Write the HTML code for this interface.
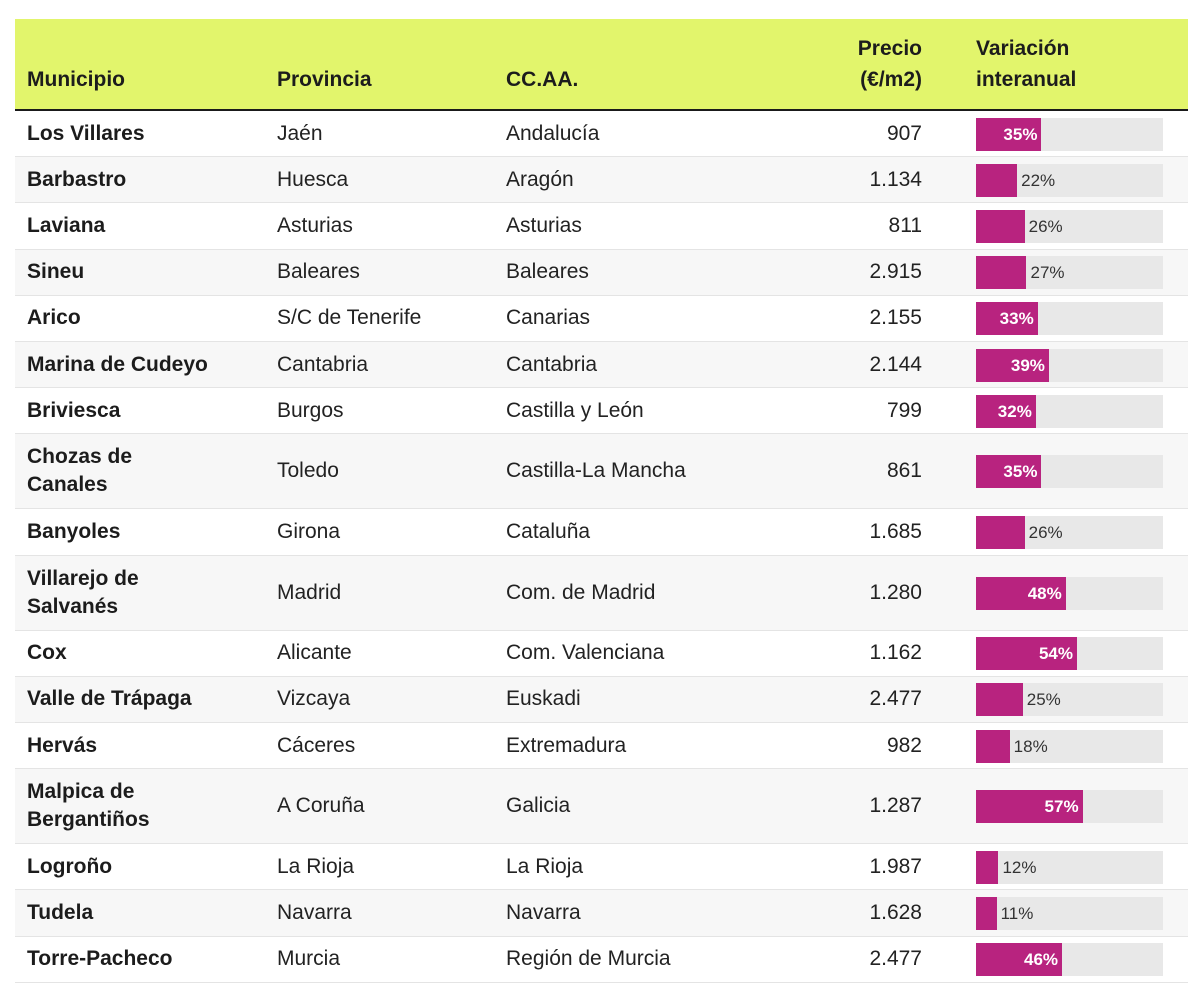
<!DOCTYPE html>
<html><head><meta charset="utf-8">
<style>
body{margin:0;background:#fff;width:1200px;height:1001px;position:relative;overflow:hidden;font-family:"Liberation Sans",sans-serif;color:#222;}
#hdr{position:absolute;left:15px;top:19px;width:1173px;height:90px;background:#e2f56c;border-bottom:2px solid #1a1a1a;}
.h{position:absolute;font-weight:bold;font-size:21px;line-height:31px;color:#1c1c1c;}
.row{position:absolute;left:15px;width:1173px;border-bottom:1px solid #e4e4e4;box-sizing:border-box;}
.c{position:absolute;top:0;bottom:0;display:flex;align-items:center;font-size:21px;line-height:28px;}
.track{position:absolute;left:961px;width:187px;height:33px;background:#e8e8e8;}
.bar{position:absolute;left:0;top:0;height:33px;background:#b8237f;}
.lbl{position:absolute;top:0;line-height:33px;font-size:17px;}
</style></head><body>
<div id="hdr">
<div class="h" style="left:12px;top:45px">Municipio</div>
<div class="h" style="left:262px;top:45px">Provincia</div>
<div class="h" style="left:491px;top:45px">CC.AA.</div>
<div class="h" style="right:266px;top:14px;text-align:right">Precio<br>(€/m2)</div>
<div class="h" style="left:961px;top:14px">Variación<br>interanual</div>
</div>
<div id="body"></div>
<script>
const municipios=["Los Villares","Barbastro","Laviana","Sineu","Arico","Marina de Cudeyo","Briviesca","Chozas de<br>Canales","Banyoles","Villarejo de<br>Salvanés","Cox","Valle de Trápaga","Hervás","Malpica de<br>Bergantiños","Logroño","Tudela","Torre-Pacheco"];
const provincias=["Jaén","Huesca","Asturias","Baleares","S/C de Tenerife","Cantabria","Burgos","Toledo","Girona","Madrid","Alicante","Vizcaya","Cáceres","A Coruña","La Rioja","Navarra","Murcia"];
const ccaa=["Andalucía","Aragón","Asturias","Baleares","Canarias","Cantabria","Castilla y León","Castilla-La Mancha","Cataluña","Com. de Madrid","Com. Valenciana","Euskadi","Extremadura","Galicia","La Rioja","Navarra","Región de Murcia"];
const precios=["907","1.134","811","2.915","2.155","2.144","799","861","1.685","1.280","1.162","2.477","982","1.287","1.987","1.628","2.477"];
const variacion=[35,22,26,27,33,39,32,35,26,48,54,25,18,57,12,11,46];
const maxV=100, trackW=187;
const xScale=v=>v/maxV*trackW;
const tbody=document.getElementById('body');
let yPos=111;
municipios.forEach((m,i)=>{
  const tall=m.includes('<br>');
  const h=tall?75:46.2;
  const r=document.createElement('div');
  
  
  r.className='row';
  r.style.top=yPos+'px';r.style.height=h+'px';
  r.style.background=i%2?'#f7f7f7':'#fff';
  const w=xScale(variacion[i]);
  const inside=variacion[i]>=30;
  r.innerHTML=`<div class="c" style="left:12px;font-weight:bold;color:#1c1c1c">${m}</div>
<div class="c" style="left:262px">${provincias[i]}</div>
<div class="c" style="left:491px">${ccaa[i]}</div>
<div class="c" style="right:266px">${precios[i]}</div>
<div class="track" style="top:${(h-33)/2}px"><div class="bar" style="width:${w}px"></div>
<div class="lbl" style="${inside?`left:${w-40}px;width:36px;text-align:right;color:#fff;font-weight:bold`:`left:${w+4}px;color:#333`}">${variacion[i]}%</div></div>`;
  const names=['municipio-cell','provincia-cell','ccaa-cell','precio-cell'];
  r.querySelectorAll('.c').forEach((c,k)=>{
    
    
  });
  const b=r.querySelector('.bar');
  
  
  const t=r.querySelector('.track');
  
  
  const l=r.querySelector('.lbl');
  
  
  tbody.appendChild(r);
  yPos+=h;
});
</script>
</body></html>
